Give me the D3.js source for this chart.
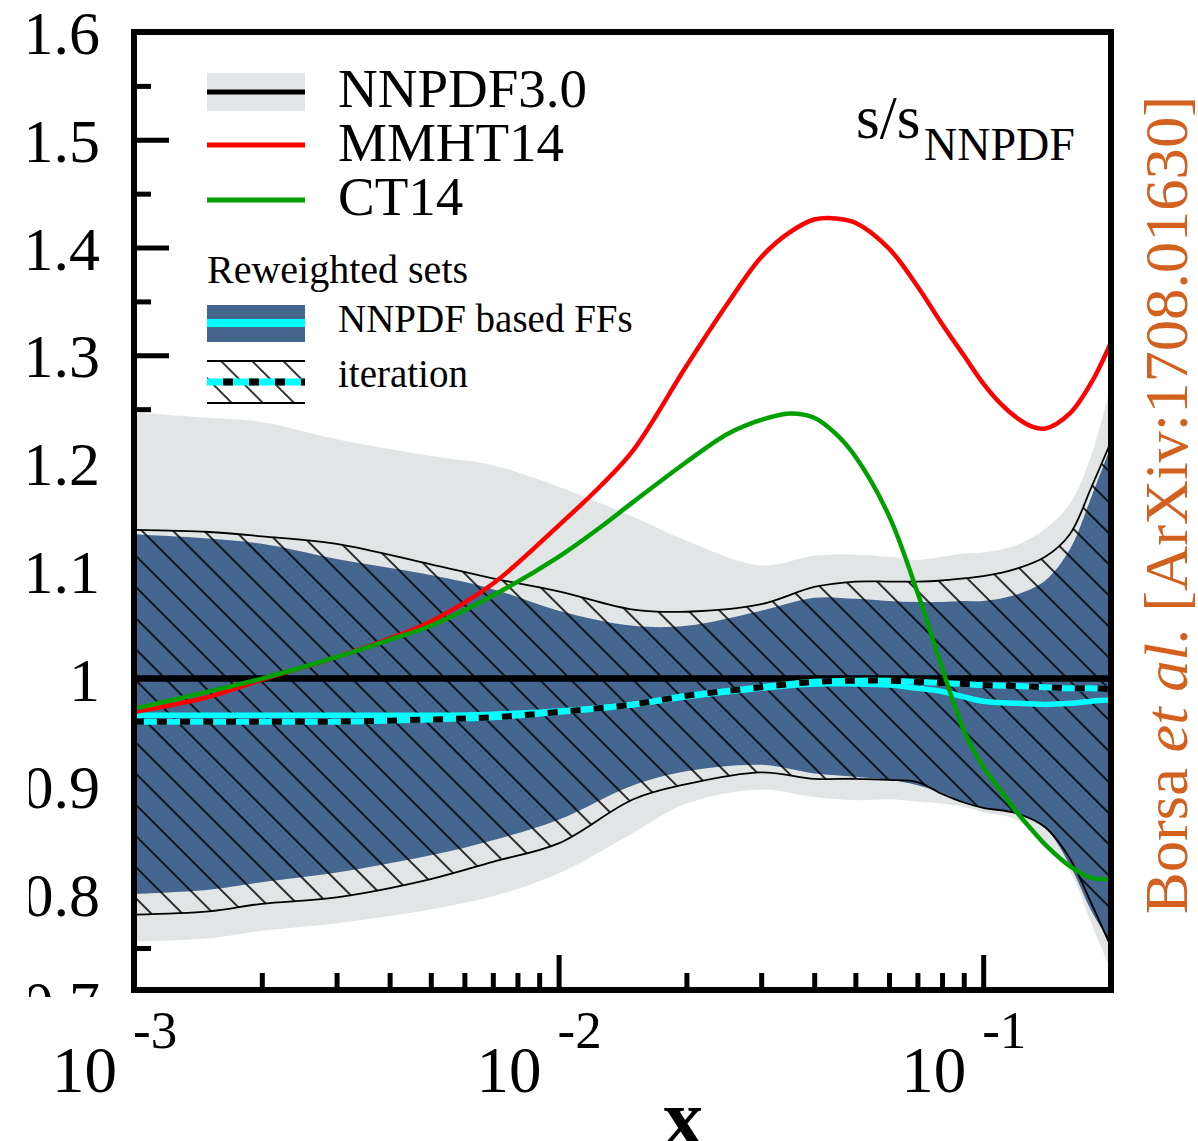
<!DOCTYPE html>
<html><head><meta charset="utf-8">
<script src="https://cdn.jsdelivr.net/npm/d3@7"></script>
<style>body{margin:0;background:#fff}svg{display:block}</style>
</head><body>
<script>
// ---------------- data ----------------
const xGrid = [0.001,0.0015,0.002,0.003,0.005,0.007,0.01,0.015,0.02,0.03,0.04,0.05,0.06,0.07,0.08,0.09,0.1,0.12,0.14,0.16,0.18,0.2];
const nnpdfCentral = [1,1,1,1,1,1,1,1,1,1,1,1,1,1,1,1,1,1,1,1,1,1];
const nnpdfUpper = [1.247,1.242,1.238,1.222,1.2065,1.198,1.178,1.150,1.128,1.105,1.114,1.115,1.113,1.110,1.113,1.116,1.117,1.124,1.139,1.162,1.208,1.273];
const nnpdfLower = [0.756,0.759,0.766,0.773,0.786,0.798,0.819,0.857,0.884,0.897,0.890,0.887,0.888,0.886,0.884,0.881,0.876,0.869,0.844,0.821,0.772,0.729];
const ffUpper   = [1.134,1.130,1.125,1.111,1.096,1.083,1.063,1.049,1.049,1.063,1.075,1.074,1.072,1.071,1.071,1.072,1.072,1.078,1.091,1.120,1.169,1.216];
const ffLower   = [0.800,0.804,0.811,0.820,0.836,0.850,0.869,0.901,0.914,0.920,0.912,0.909,0.906,0.901,0.894,0.885,0.880,0.875,0.861,0.827,0.784,0.754];
const ffCentral = [0.966,0.966,0.966,0.966,0.966,0.967,0.970,0.976,0.983,0.991,0.995,0.995,0.994,0.991,0.988,0.983,0.979,0.977,0.976,0.977,0.979,0.980];
const iterUpper   = [1.138,1.136,1.132,1.125,1.106,1.093,1.081,1.064,1.062,1.069,1.085,1.090,1.090,1.090,1.091,1.093,1.095,1.102,1.113,1.134,1.178,1.220];
const iterLower   = [0.781,0.784,0.791,0.797,0.814,0.830,0.847,0.888,0.902,0.913,0.907,0.907,0.906,0.904,0.893,0.885,0.880,0.875,0.862,0.833,0.791,0.751];
const iterCentral = [0.960,0.960,0.960,0.960,0.962,0.964,0.969,0.976,0.984,0.992,0.997,0.998,0.998,0.997,0.996,0.995,0.994,0.993,0.992,0.991,0.991,0.990];

const xCurve = [0.001,0.0015,0.002,0.003,0.004,0.005,0.007,0.01,0.0125,0.015,0.02,0.025,0.03,0.035,0.04,0.045,0.05,0.06,0.07,0.08,0.09,0.1,0.11,0.12,0.13,0.14,0.16,0.18,0.2];
const mmht14 = [0.969,0.983,0.999,1.020,1.037,1.053,1.088,1.142,1.178,1.212,1.290,1.348,1.391,1.414,1.426,1.427,1.423,1.399,1.364,1.329,1.300,1.274,1.255,1.242,1.234,1.232,1.246,1.275,1.312];
const ct14   = [0.972,0.988,1.000,1.020,1.036,1.049,1.077,1.113,1.140,1.164,1.201,1.227,1.240,1.246,1.242,1.227,1.206,1.151,1.080,1.010,0.952,0.918,0.896,0.876,0.860,0.846,0.826,0.815,0.814];

const yMajor = [0.7,0.8,0.9,1.0,1.1,1.2,1.3,1.4,1.5,1.6];
const yMajorLabels = ["0.7","0.8","0.9","1","1.1","1.2","1.3","1.4","1.5","1.6"];
const yMinor = [0.75,0.85,0.95,1.05,1.15,1.25,1.35,1.45,1.55];
const xMajor = [0.001,0.01,0.1];
const xMajorExp = ["-3","-2","-1"];
const xMinor = [0.002,0.003,0.004,0.005,0.006,0.007,0.008,0.009,0.02,0.03,0.04,0.05,0.06,0.07,0.08,0.09];

const legendLabels = ["NNPDF3.0","MMHT14","CT14"];
const legendSub = "Reweighted sets";
const legendLabels2 = ["NNPDF based FFs","iteration"];

// ---------------- setup ----------------
const W = 1198, H = 1141;
const L = 134, R = 1111, T = 32, B = 990;
const x = d3.scaleLog().domain([0.001,0.2]).range([L,R]);
const y = d3.scaleLinear().domain([0.711,1.6]).range([B,T]);
const serif = "'Liberation Serif','DejaVu Serif',serif";

const svg = d3.select("body").append("svg").attr("width",W).attr("height",H);
const defs = svg.append("defs");
defs.append("clipPath").attr("id","plotclip").append("rect")
  .attr("x",L).attr("y",T).attr("width",R-L).attr("height",B-T);
defs.append("clipPath").attr("id","ylabclip").append("rect")
  .attr("x",29).attr("y",0).attr("width",100).attr("height",997);
defs.append("pattern").attr("id","hatch").attr("patternUnits","userSpaceOnUse")
  .attr("width",22).attr("height",22).attr("patternTransform","rotate(-45)")
  .append("line").attr("x1",11).attr("y1",-2).attr("x2",11).attr("y2",24)
  .attr("stroke","#000").attr("stroke-width",1.6);

// ---------------- ticks (under bands) ----------------
const [yLo, yHi] = y.domain();
function styleAxis(g){ g.select(".domain").remove(); g.selectAll(".tick line").attr("stroke","#000").attr("stroke-width",5); g.selectAll("text").remove(); }
svg.append("g").attr("transform",`translate(${L},0)`)
  .call(d3.axisLeft(y).tickValues(yMajor.filter(v=>v>yLo && v<yHi)).tickSize(-35).tickFormat(""))
  .call(styleAxis);
svg.append("g").attr("transform",`translate(${L},0)`)
  .call(d3.axisLeft(y).tickValues(yMinor).tickSize(-17).tickFormat(""))
  .call(styleAxis);
svg.append("g").attr("transform",`translate(0,${B})`)
  .call(d3.axisBottom(x).tickValues(xMajor).tickSize(-35).tickFormat(""))
  .call(styleAxis);
svg.append("g").attr("transform",`translate(0,${B})`)
  .call(d3.axisBottom(x).tickValues(xMinor).tickSize(-17).tickFormat(""))
  .call(styleAxis);

// ---------------- plot content ----------------
const plot = svg.append("g").attr("clip-path","url(#plotclip)");
const curve = d3.curveCatmullRom.alpha(0.5);
const band = (lo,hi) => d3.area().x((d,i)=>x(xGrid[i])).y0((d,i)=>y(lo[i])).y1((d,i)=>y(hi[i])).curve(curve)(xGrid);
const lineG = (vals) => d3.line().x((d,i)=>x(xGrid[i])).y((d,i)=>y(vals[i])).curve(curve)(xGrid);
const lineC = (vals) => d3.line().x((d,i)=>x(xCurve[i])).y((d,i)=>y(vals[i])).curve(curve)(xCurve);

plot.append("path").attr("d",band(nnpdfLower,nnpdfUpper)).attr("fill","#e1e5e5");
plot.append("path").attr("d",band(ffLower,ffUpper)).attr("fill","#45668f");
plot.append("path").attr("d",band(iterLower,iterUpper)).attr("fill","url(#hatch)");
plot.append("path").attr("d",lineG(iterUpper)).attr("fill","none").attr("stroke","#000").attr("stroke-width",1.8);
plot.append("path").attr("d",lineG(iterLower)).attr("fill","none").attr("stroke","#000").attr("stroke-width",1.8);
plot.append("path").attr("d",lineG(nnpdfCentral)).attr("fill","none").attr("stroke","#000").attr("stroke-width",6.5);
plot.append("path").attr("d",lineG(ffCentral)).attr("fill","none").attr("stroke","#00ffff").attr("stroke-width",5.5);
plot.append("path").attr("d",lineG(iterCentral)).attr("fill","none").attr("stroke","#00ffff").attr("stroke-width",6);
plot.append("path").attr("d",lineG(iterCentral)).attr("fill","none").attr("stroke","#000").attr("stroke-width",6).attr("stroke-dasharray","10,13");
plot.append("path").attr("d",lineC(mmht14)).attr("fill","none").attr("stroke","#ff0000").attr("stroke-width",4.5);
plot.append("path").attr("d",lineC(ct14)).attr("fill","none").attr("stroke","#00a000").attr("stroke-width",4.5);

// frame
svg.append("rect").attr("x",L).attr("y",T).attr("width",R-L).attr("height",B-T)
  .attr("fill","none").attr("stroke","#000").attr("stroke-width",6);

// ---------------- tick labels ----------------
const yl = svg.append("g").attr("clip-path","url(#ylabclip)");
yl.selectAll("text").data(yMajor).join("text")
  .attr("x",100).attr("y",d=>y(d)+22).attr("text-anchor","end")
  .attr("font-family",serif).attr("font-size",62).attr("fill","#000")
  .text((d,i)=>yMajorLabels[i]);

const xl = svg.append("g");
xMajor.forEach((v,i)=>{
  xl.append("text").attr("x",x(v)-17).attr("y",1092).attr("text-anchor","end")
    .attr("font-family",serif).attr("font-size",65).text("10");
  xl.append("text").attr("x",x(v)-1).attr("y",1048).attr("text-anchor","start")
    .attr("font-family",serif).attr("font-size",53).text(xMajorExp[i]);
});
svg.append("text").attr("x",683).attr("y",1145).attr("text-anchor","middle")
  .attr("font-family",serif).attr("font-weight","bold").attr("font-size",80).text("x");

// ---------------- legend ----------------
const lg = svg.append("g");
const sx0 = 207, sx1 = 305, tx = 338;
lg.append("rect").attr("x",sx0).attr("y",73).attr("width",sx1-sx0).attr("height",38).attr("fill","#e1e5e5");
lg.append("line").attr("x1",sx0).attr("x2",sx1).attr("y1",92).attr("y2",92).attr("stroke","#000").attr("stroke-width",5);
lg.append("line").attr("x1",sx0).attr("x2",sx1).attr("y1",145).attr("y2",145).attr("stroke","#ff0000").attr("stroke-width",5);
lg.append("line").attr("x1",sx0).attr("x2",sx1).attr("y1",200).attr("y2",200).attr("stroke","#00a000").attr("stroke-width",5);
[107,161,215].forEach((yy,i)=>{
  lg.append("text").attr("x",tx).attr("y",yy).attr("font-family",serif).attr("font-size",55).text(legendLabels[i]);
});
lg.append("text").attr("x",sx0).attr("y",283).attr("font-family",serif).attr("font-size",40).text(legendSub);
lg.append("rect").attr("x",sx0).attr("y",305).attr("width",sx1-sx0).attr("height",37).attr("fill","#45668f");
lg.append("line").attr("x1",sx0).attr("x2",sx1).attr("y1",323).attr("y2",323).attr("stroke","#00ffff").attr("stroke-width",8);
lg.append("rect").attr("x",sx0).attr("y",361).attr("width",sx1-sx0).attr("height",42).attr("fill","url(#hatch)");
lg.append("line").attr("x1",sx0).attr("x2",sx1).attr("y1",361).attr("y2",361).attr("stroke","#000").attr("stroke-width",2);
lg.append("line").attr("x1",sx0).attr("x2",sx1).attr("y1",403).attr("y2",403).attr("stroke","#000").attr("stroke-width",2);
lg.append("line").attr("x1",sx0).attr("x2",sx1).attr("y1",382).attr("y2",382).attr("stroke","#00ffff").attr("stroke-width",7);
lg.append("line").attr("x1",sx0+16).attr("x2",sx1).attr("y1",382).attr("y2",382).attr("stroke","#000").attr("stroke-width",7).attr("stroke-dasharray","10,16");
[332,387].forEach((yy,i)=>{
  lg.append("text").attr("x",tx).attr("y",yy).attr("font-family",serif).attr("font-size",39).text(legendLabels2[i]);
});

// s/s_NNPDF
const ss = svg.append("text").attr("x",856).attr("y",138).attr("font-family",serif).attr("font-size",61);
ss.append("tspan").text("s/s");
ss.append("tspan").attr("x",924).attr("y",160).attr("font-size",46).text("NNPDF");

// side credit
const cr = svg.append("text").attr("transform","translate(1187,914) rotate(-90)")
  .attr("font-family",serif).attr("font-size",62).attr("fill","#d2601e")
  .attr("textLength",818).attr("lengthAdjust","spacingAndGlyphs");
cr.append("tspan").text("Borsa ");
cr.append("tspan").attr("font-style","italic").text("et al.");
cr.append("tspan").text(" [ArXiv:1708.01630]");
</script>
</body></html>
